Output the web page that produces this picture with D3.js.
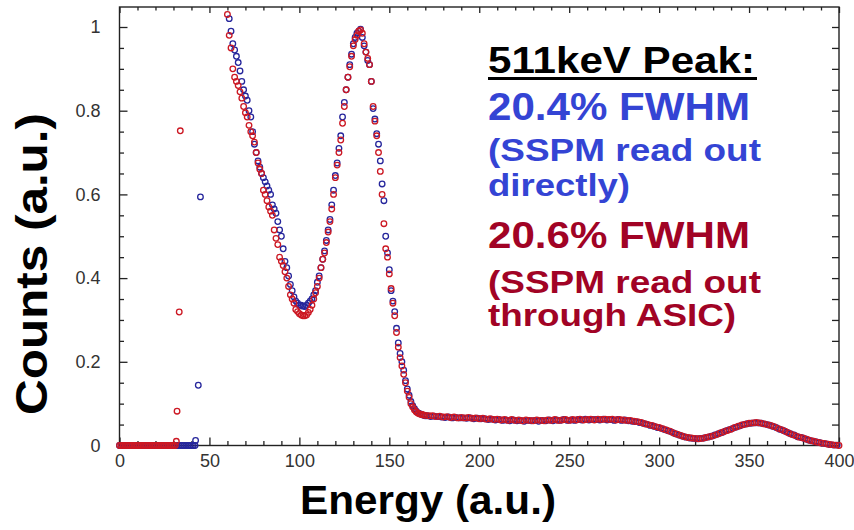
<!DOCTYPE html>
<html>
<head>
<meta charset="utf-8">
<script src="https://cdn.jsdelivr.net/npm/d3@7"></script>
<style>
  body { margin: 0; background: #fff; }
  svg { display: block; font-family: "Liberation Sans", Arial, sans-serif; }
</style>
</head>
<body>
<div id="chart"></div>
<script>
// [energy, counts]
// SSPM read out directly (blue)
const lowBlue = [
  [0,0],[1,0],[2,0],[3,0],[4,0],[5,0],[6,0],[7,0],[8,0],[9,0],[10,0],[11,0],[12,0],[13,0],[14,0],
  [15,0],[16,0],[17,0],[18,0],[19,0],[20,0],[21,0],[22,0],[23,0],[24,0],[25,0],[26,0],[27,0],[28,0],
  [29,0],[30,0],[31,0],[32,0],[33,0],[34,0],[35,0],[36,0],[37,0],[38,0],[39,0],[40,0],[41,0],[42,0],
  [42.3,0.012],[43.8,0.144],[45,0.594]
]
const peakBlue = [
  [61,1.02],[62,0.99],[63,0.96],[64,0.945],[65,0.93],[66,0.915],[67,0.895],[68,0.87],[69,0.85],[70,0.835],
  [71,0.825],[72,0.80],[73,0.785],[74,0.75],[75,0.72],[76,0.70],[77,0.68],[78,0.665],[79,0.65],[80,0.64],
  [81,0.63],[82,0.62],[83,0.61],[84,0.60],[85,0.575],[86,0.565],[87,0.555],[88,0.535],[89,0.515],[90,0.50],
  [91,0.47],[92,0.44],[93,0.425],[94,0.405],[95,0.385],[96,0.37],[97,0.355],[98,0.345],[99,0.34],[100,0.335],
  [101,0.335],[102,0.333],[103,0.332],[104,0.335],[105,0.34],[106,0.345],[107,0.35],[108,0.36],[109,0.37],[110,0.39],
  [111,0.405],[112,0.425],[113,0.445],[114,0.465],[115,0.49],[116,0.515],[117,0.54],[118,0.575],[119,0.61],[120,0.645],
  [121,0.675],[122,0.71],[123,0.74],[124,0.785],[125,0.82],[126,0.85],[127,0.88],[128,0.91],[129,0.935],[130,0.96],
  [131,0.975],[132,0.985],[133,0.99],[134,0.995],[135,0.975],[136,0.955],[137,0.94],[138,0.92],[139,0.91],[140,0.87],
  [141,0.805],[142,0.78],[143,0.745],[144,0.72],[145,0.68],[146,0.625],[147,0.585],[148,0.50],[149,0.46],[150,0.42],
  [151,0.37],[152,0.345],[153,0.32],[154,0.28],[155,0.245],[156,0.22],[157,0.20],[158,0.18],[159,0.155],[160,0.135],
  [161,0.12],[162,0.105],[163,0.095],[164,0.088],[165,0.082],[166,0.078],[167,0.076],[168,0.074],[169,0.072],[170,0.071]
]
const tailBlue = [
  [171,.071],[173,.069],[175,.070],[177,.069],[179,.068],[181,.067],[183,.068],[185,.066],[187,.067],[189,.066],
  [191,.066],[193,.065],[195,.066],[197,.064],[199,.065],[201,.064],[203,.064],[205,.062],[207,.063],[209,.061],
  [211,.062],[213,.060],[215,.061],[217,.059],[219,.061],[221,.059],[223,.060],[225,.058],[227,.060],[229,.059],
  [231,.060],[233,.058],[235,.060],[237,.059],[239,.061],[241,.059],[243,.061],[245,.060],[247,.062],[249,.060],
  [251,.061],[253,.060],[255,.062],[257,.061],[259,.063],[261,.061],[263,.062],[265,.062],[267,.061],[269,.063],
  [271,.061],[273,.062],[275,.060],[277,.062],[279,.060],[281,.061],[283,.059],[285,.058],[287,.057],[289,.055],
  [291,.053],[293,.051],[295,.048],[297,.046],[299,.043],[301,.041],[303,.038],[305,.035],[307,.032],[309,.028],
  [311,.025],[313,.022],[315,.020],[317,.018],[319,.017],[321,.016],[323,.017],[325,.018],[327,.020],[329,.022],
  [331,.025],[333,.028],[335,.031],[337,.035],[339,.038],[341,.041],[343,.044],[345,.047],[347,.050],[349,.052],
  [351,.053],[353,.054],[355,.054],[357,.053],[359,.051],[361,.049],[363,.046],[365,.043],[367,.039],[369,.036],
  [371,.032],[373,.028],[375,.025],[377,.021],[379,.019],[381,.016],[383,.013],[385,.011],[387,.009],[389,.007],
  [391,.005],[393,.004],[395,.002],[397,.001],[399,.001]
]

// SSPM read out through ASIC (red)
const lowRed = [
  [0,0],[1,0],[2,0],[3,0],[4,0],[5,0],[6,0],[7,0],[8,0],[9,0],[10,0],[11,0],[12,0],[13,0],[14,0],
  [15,0],[16,0],[17,0],[18,0],[19,0],[20,0],[21,0],[22,0],[23,0],[24,0],[25,0],[26,0],[27,0],[28,0],
  [29,0],[30,0],[31,0],
  [31.6,0.01],[32,0.082],[33.2,0.319],[33.8,0.752]
]
const peakRed = [
  [60,1.03],[61,0.98],[62,0.95],[63,0.90],[64,0.88],[65,0.87],[66,0.86],[67,0.845],[68,0.83],[69,0.81],
  [70,0.795],[71,0.785],[72,0.765],[73,0.75],[74,0.74],[75,0.725],[76,0.70],[77,0.675],[78,0.66],[79,0.65],
  [80,0.61],[81,0.60],[82,0.585],[83,0.57],[84,0.56],[85,0.55],[86,0.515],[87,0.495],[88,0.48],[89,0.45],
  [90,0.44],[91,0.43],[92,0.415],[93,0.40],[94,0.38],[95,0.36],[96,0.35],[97,0.34],[98,0.325],[99,0.32],
  [100,0.315],[101,0.312],[102,0.31],[103,0.31],[104,0.312],[105,0.318],[106,0.325],[107,0.335],[108,0.35],[109,0.365],
  [110,0.38],[111,0.40],[112,0.425],[113,0.445],[114,0.46],[115,0.485],[116,0.51],[117,0.535],[118,0.565],[119,0.60],
  [120,0.64],[121,0.67],[122,0.70],[123,0.73],[124,0.77],[125,0.81],[126,0.85],[127,0.88],[128,0.905],[129,0.93],
  [130,0.955],[131,0.97],[132,0.98],[133,0.99],[134,0.993],[135,0.985],[136,0.96],[137,0.94],[138,0.925],[139,0.91],
  [140,0.87],[141,0.81],[142,0.775],[143,0.74],[144,0.70],[145,0.655],[146,0.60],[147,0.53],[148,0.47],[149,0.45],
  [150,0.41],[151,0.375],[152,0.34],[153,0.31],[154,0.27],[155,0.235],[156,0.21],[157,0.19],[158,0.17],[159,0.15],
  [160,0.13],[161,0.115],[162,0.10],[163,0.092],[164,0.085],[165,0.08],[166,0.077],[167,0.075],[168,0.074],[169,0.073],
  [170,0.072]
]
const tailRed = [
  [172,.071],[174,.071],[176,.069],[178,.070],[180,.068],[182,.069],[184,.067],[186,.068],[188,.066],[190,.067],
  [192,.066],[194,.067],[196,.065],[198,.066],[200,.064],[202,.065],[204,.063],[206,.064],[208,.062],[210,.063],
  [212,.061],[214,.062],[216,.060],[218,.062],[220,.060],[222,.061],[224,.059],[226,.061],[228,.060],[230,.059],
  [232,.061],[234,.060],[236,.059],[238,.061],[240,.060],[242,.062],[244,.060],[246,.061],[248,.062],[250,.060],
  [252,.062],[254,.061],[256,.063],[258,.061],[260,.062],[262,.063],[264,.061],[266,.063],[268,.062],[270,.063],
  [272,.062],[274,.063],[276,.061],[278,.062],[280,.061],[282,.060],[284,.060],[286,.058],[288,.057],[290,.055],
  [292,.052],[294,.050],[296,.048],[298,.045],[300,.043],[302,.040],[304,.037],[306,.034],[308,.030],[310,.027],
  [312,.024],[314,.021],[316,.019],[318,.018],[320,.017],[322,.016],[324,.017],[326,.019],[328,.021],[330,.023],
  [332,.026],[334,.030],[336,.033],[338,.036],[340,.039],[342,.043],[344,.046],[346,.049],[348,.051],[350,.053],
  [352,.054],[354,.055],[356,.054],[358,.052],[360,.050],[362,.048],[364,.045],[366,.041],[368,.038],[370,.034],
  [372,.030],[374,.026],[376,.023],[378,.020],[380,.018],[382,.015],[384,.012],[386,.010],[388,.008],[390,.006],
  [392,.005],[394,.003],[396,.002],[398,.001],[400,.000]
]

const xMajor = [0, 50, 100, 150, 200, 250, 300, 350, 400]
const yMajor = [0, 0.2, 0.4, 0.6, 0.8, 1]

const notes = [
  { text: "511keV Peak:", color: "#000", size: 37, y: 73, len: 267 },
  { text: "20.4% FWHM", color: "#3444d4", size: 38, y: 120, len: 262 },
  { text: "(SSPM read out", color: "#3444d4", size: 31, y: 160.5, len: 273 },
  { text: "directly)", color: "#3444d4", size: 31, y: 196, len: 142 },
  { text: "20.6% FWHM", color: "#a10325", size: 37, y: 247.5, len: 262 },
  { text: "(SSPM read out", color: "#a10325", size: 31, y: 293, len: 273 },
  { text: "through ASIC)", color: "#a10325", size: 31, y: 325.5, len: 248 }
]

const width = 854, height = 530
const plotLeft = 119.5, plotRight = 839, plotTop = 7, plotBottom = 445.5
const major = 8, minor = 4.5

const blueColor = "#26269c",
      redColor = "#cc1823"

const svg = d3.select("#chart")
    .append("svg")
    .attr("width", width)
    .attr("height", height)

svg.append("rect").attr("width", width).attr("height", height).attr("fill", "#fff")

const x = d3.scaleLinear().domain([0, 400]).range([plotLeft, plotRight])
const y = d3.scaleLinear().domain([0, (plotBottom - plotTop) / 418.5]).range([plotBottom, plotTop])

const xMinor = d3.range(0, 401, 10).filter(v => v % 50)
const yMinor = d3.range(0, 1.05, 0.05).map(v => +v.toFixed(2)).filter(v => Math.round(v * 100) % 20)

function styleAxis(g) {
  g.select(".domain").remove()
  g.selectAll("line").attr("stroke", "#222").attr("stroke-width", 1.3)
  g.selectAll("text")
    .attr("fill", "#333")
    .attr("font-size", "18px")
    .attr("font-family", "'Liberation Sans', Arial, sans-serif")
}

// bottom
svg.append("g").attr("transform", `translate(0,${plotBottom})`)
    .call(d3.axisBottom(x).tickValues(xMajor).tickSizeInner(-major).tickSizeOuter(0).tickPadding(9))
    .call(styleAxis)
svg.append("g").attr("transform", `translate(0,${plotBottom})`)
    .call(d3.axisBottom(x).tickValues(xMinor).tickSizeInner(-minor).tickSizeOuter(0).tickFormat(""))
    .call(styleAxis)
// top
svg.append("g").attr("transform", `translate(0,${plotTop})`)
    .call(d3.axisTop(x).tickValues(xMajor).tickSizeInner(-6).tickSizeOuter(0).tickFormat(""))
    .call(styleAxis)
svg.append("g").attr("transform", `translate(0,${plotTop})`)
    .call(d3.axisTop(x).tickValues(xMinor).tickSizeInner(-3.5).tickSizeOuter(0).tickFormat(""))
    .call(styleAxis)
// left
svg.append("g").attr("transform", `translate(${plotLeft},0)`)
    .call(d3.axisLeft(y).tickValues(yMajor).tickSizeInner(-major).tickSizeOuter(0).tickPadding(19)
      .tickFormat(d => d3.format("~g")(d)))
    .call(styleAxis)
svg.append("g").attr("transform", `translate(${plotLeft},0)`)
    .call(d3.axisLeft(y).tickValues(yMinor).tickSizeInner(-minor).tickSizeOuter(0).tickFormat(""))
    .call(styleAxis)
// right
svg.append("g").attr("transform", `translate(${plotRight},0)`)
    .call(d3.axisRight(y).tickValues(yMajor.concat(yMinor)).tickSizeInner(-7).tickSizeOuter(0).tickFormat(""))
    .call(styleAxis)

svg.append("rect")
    .attr("x", plotLeft).attr("y", plotTop)
    .attr("width", plotRight - plotLeft).attr("height", plotBottom - plotTop)
    .attr("fill", "none").attr("stroke", "#222").attr("stroke-width", 1.4)

svg.append("clipPath").attr("id", "plot")
  .append("rect").attr("x", plotLeft - 4).attr("y", plotTop)
  .attr("width", plotRight - plotLeft + 8).attr("height", plotBottom - plotTop + 4)

const points = svg.append("g").attr("clip-path", "url(#plot)")

function drawSeries(data, color) {
  points.append("g")
    .selectAll("circle")
    .data(data)
    .join("circle")
    .attr("cx", d => x(d[0]))
    .attr("cy", d => y(d[1]))
    .attr("r", 2.8)
    .attr("fill", "none")
    .attr("stroke", color)
    .attr("stroke-width", 1.3)
}

drawSeries(lowBlue.concat(peakBlue, tailBlue), blueColor)
drawSeries(lowRed.concat(peakRed, tailRed), redColor)

// axis titles
svg.append("text")
    .attr("x", 428).attr("y", 514)
    .attr("text-anchor", "middle")
    .attr("font-size", "40px").attr("font-weight", "bold")
    .attr("textLength", 256).attr("lengthAdjust", "spacingAndGlyphs")
    .text("Energy (a.u.)")

svg.append("text")
    .attr("transform", "translate(47,264) rotate(-90)")
    .attr("text-anchor", "middle")
    .attr("font-size", "44px").attr("font-weight", "bold")
    .attr("textLength", 302).attr("lengthAdjust", "spacingAndGlyphs")
    .text("Counts (a.u.)")

// annotation
const note = svg.append("g")
note.selectAll("text")
    .data(notes)
    .join("text")
    .attr("x", 488)
    .attr("y", d => d.y)
    .attr("fill", d => d.color)
    .attr("font-size", d => d.size + "px")
    .attr("font-weight", "bold")
    .attr("textLength", d => d.len)
    .attr("lengthAdjust", "spacingAndGlyphs")
    .text(d => d.text)

note.append("line")
    .attr("x1", 488).attr("x2", 757)
    .attr("y1", 78.5).attr("y2", 78.5)
    .attr("stroke", "#000").attr("stroke-width", 3)
</script>
</body>
</html>
